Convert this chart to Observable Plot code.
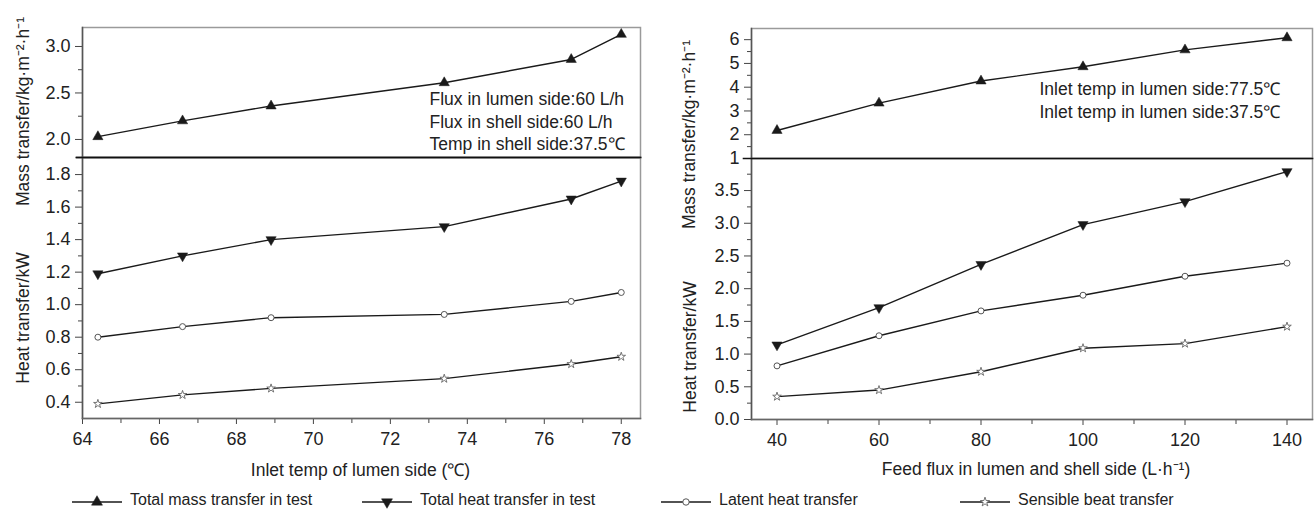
<!DOCTYPE html>
<html><head><meta charset="utf-8">
<script src="https://cdn.jsdelivr.net/npm/d3@7"></script>
<script src="https://cdn.jsdelivr.net/npm/@observablehq/plot@0.6"></script>
<style>
body{margin:0;background:#fff;}
#chart{position:relative;width:1315px;height:513px;font-family:"Liberation Sans",Arial,Helvetica,sans-serif;color:#222;overflow:hidden;}
#chart svg.panel{position:absolute;overflow:visible;background:transparent;}
.legend-item{position:absolute;display:flex;align-items:center;font-size:16px;line-height:18px;height:18px;white-space:nowrap;}
.legend-item svg{margin-right:8px;overflow:visible;}
</style></head><body><div id="chart"></div>
<script>
// ---- data ----
const tempLumen        = [64.4, 66.6, 68.9, 73.4, 76.7, 78.0];
const massByTemp       = [2.03, 2.20, 2.36, 2.61, 2.86, 3.13];
const totalHeatByTemp  = [1.19, 1.30, 1.40, 1.48, 1.65, 1.76];
const latentByTemp     = [0.80, 0.865, 0.92, 0.94, 1.02, 1.075];
const sensibleByTemp   = [0.39, 0.445, 0.485, 0.545, 0.635, 0.68];

const feedFlux         = [40, 60, 80, 100, 120, 140];
const massByFlux       = [2.18, 3.33, 4.26, 4.86, 5.57, 6.08];
const totalHeatByFlux  = [1.14, 1.71, 2.37, 2.98, 3.33, 3.79];
const latentByFlux     = [0.82, 1.28, 1.66, 1.90, 2.19, 2.39];
const sensibleByFlux   = [0.35, 0.45, 0.73, 1.09, 1.16, 1.42];

// tick values
const tempTicks      = [64, 66, 68, 70, 72, 74, 76, 78];
const tempMinor      = [65, 67, 69, 71, 73, 75, 77];
const fluxTicks      = [40, 60, 80, 100, 120, 140];
const fluxMinor      = [50, 70, 90, 110, 130];
const massTempTicks  = [2.0, 2.5, 3.0];
const massTempMinor  = [2.25, 2.75];
const heatTempTicks  = [0.4, 0.6, 0.8, 1.0, 1.2, 1.4, 1.6, 1.8];
const heatTempMinor  = [0.5, 0.7, 0.9, 1.1, 1.3, 1.5, 1.7];
const massFluxTicks  = [1, 2, 3, 4, 5, 6];
const massFluxMinor  = [1.5, 2.5, 3.5, 4.5, 5.5];
const heatFluxTicks  = [0.0, 0.5, 1.0, 1.5, 2.0, 2.5, 3.0, 3.5];
const heatFluxMinor  = [0.25, 0.75, 1.25, 1.75, 2.25, 2.75, 3.25, 3.75];

// text
const seriesNames = ["Total mass transfer in test", "Total heat transfer in test", "Latent heat transfer", "Sensible beat transfer"];
const massLabel = "Mass transfer/kg·m⁻²·h⁻¹";
const heatLabel = "Heat transfer/kW";
const xLabelTemp = "Inlet temp of lumen side (℃)";
const xLabelFlux = "Feed flux in lumen and shell side (L·h⁻¹)";
const noteTemp = "Flux in lumen side:60 L/h\nFlux in shell side:60 L/h\nTemp in shell side:37.5℃";
const noteFlux = "Inlet temp in lumen side:77.5℃\nInlet temp in lumen side:37.5℃";

const rowsTemp = tempLumen.map((x, i) => ({x, mass: massByTemp[i], total: totalHeatByTemp[i], latent: latentByTemp[i], sensible: sensibleByTemp[i]}));
const rowsFlux = feedFlux.map((x, i) => ({x, mass: massByFlux[i], total: totalHeatByFlux[i], latent: latentByFlux[i], sensible: sensibleByFlux[i]}));

// ---- styles ----
const FONT = "'Liberation Sans', Arial, Helvetica, sans-serif";
const INK = "#1a1a1a";
const symStyle = {
  mass:     {symbol: "triangle", r: 3.8, fill: INK, stroke: INK, strokeWidth: 0.5},
  total:    {symbol: "triangle", r: 3.8, fill: INK, stroke: INK, strokeWidth: 0.5, rotate: 180},
  latent:   {symbol: "circle",   r: 3,   fill: "white", stroke: "#555", strokeWidth: 1},
  sensible: {symbol: "star",     r: 2.7, fill: "white", stroke: "#666", strokeWidth: 0.9}
};

function seriesMarks(rows, key) {
  return [
    Plot.line(rows, {x: "x", y: key, stroke: INK, strokeWidth: 1.4}),
    Plot.dot(rows, {x: "x", y: key, ...symStyle[key]})
  ];
}

function yAxes(major, minor, fmt) {
  return [
    Plot.axisY(major, {anchor: "left", tickSize: 7, tickPadding: 5, tickFormat: fmt, fontSize: 18, fill: "#222", stroke: "#444", label: null}),
    Plot.axisY(minor, {anchor: "left", tickSize: 4, tickFormat: () => "", stroke: "#444", label: null})
  ];
}
function xAxes(major, minor) {
  return [
    Plot.axisX(major, {anchor: "bottom", tickSize: 6, tickPadding: 8, fontSize: 18, fill: "#222", stroke: "#444", label: null}),
    Plot.axisX(minor, {anchor: "bottom", tickSize: 5, tickFormat: () => "", stroke: "#444", label: null})
  ];
}

function panel({left, top, width, height, ml, mr, mt, mb, xDomain, yDomain, marks}) {
  const svg = Plot.plot({
    width, height,
    marginLeft: ml, marginRight: mr, marginTop: mt, marginBottom: mb,
    x: {domain: xDomain, axis: null},
    y: {domain: yDomain, axis: null},
    style: {fontFamily: FONT, overflow: "visible", background: "transparent"},
    marks
  });
  svg.classList.add("panel");
  svg.style.left = left + "px";
  svg.style.top = top + "px";
  document.getElementById("chart").appendChild(svg);
}

const titleText = (txt, o) => Plot.text([txt], {text: d => d, fontSize: 17.5, fill: "#222", textAnchor: "middle", lineAnchor: "middle", ...o});

// ---- left panel, top (mass transfer vs inlet temp) ----
panel({
  left: 0, top: 0, width: 660, height: 157, ml: 82, mr: 20, mt: 27, mb: 0,
  xDomain: [64, 78.5], yDomain: [1.806, 3.204],
  marks: [
    Plot.frame({stroke: "#9a9a9a", strokeWidth: 1.5}),
    ...seriesMarks(rowsTemp, "mass"),
    ...yAxes(massTempTicks, massTempMinor, ".1f"),
    Plot.frame({anchor: "left", stroke: "#555", strokeWidth: 1.5}),
    Plot.frame({anchor: "bottom", stroke: "#111", strokeWidth: 1.6, insetLeft: -6}),
    titleText(massLabel, {frameAnchor: "left", rotate: -90, dx: -59, dy: 19}),
    titleText(noteTemp, {frameAnchor: "right", textAnchor: "start", dx: -211, dy: 28, lineHeight: 1.28})
  ]
});

// ---- left panel, bottom (heat transfer vs inlet temp) ----
panel({
  left: 0, top: 157, width: 660, height: 330, ml: 82, mr: 20, mt: 0, mb: 69,
  xDomain: [64, 78.5], yDomain: [0.3, 1.905],
  marks: [
    Plot.frame({stroke: "#9a9a9a", strokeWidth: 1.5}),
    ...seriesMarks(rowsTemp, "sensible"),
    ...seriesMarks(rowsTemp, "latent"),
    ...seriesMarks(rowsTemp, "total"),
    ...yAxes(heatTempTicks, heatTempMinor, ".1f"),
    ...xAxes(tempTicks, tempMinor),
    Plot.frame({anchor: "left", stroke: "#555", strokeWidth: 1.5}),
    Plot.frame({anchor: "bottom", stroke: "#666", strokeWidth: 1.5}),
    Plot.frame({anchor: "top", stroke: "#111", strokeWidth: 1.6, insetLeft: -6}),
    titleText(heatLabel, {frameAnchor: "left", rotate: -90, dx: -59, dy: 30}),
    titleText(xLabelTemp, {frameAnchor: "bottom", dx: -1, dy: 52})
  ]
});

// ---- right panel, top (mass transfer vs feed flux) ----
panel({
  left: 660, top: 0, width: 655, height: 158, ml: 91, mr: 3, mt: 28, mb: 0,
  xDomain: [35, 145], yDomain: [1, 6.47],
  marks: [
    Plot.frame({stroke: "#9a9a9a", strokeWidth: 1.5}),
    ...seriesMarks(rowsFlux, "mass"),
    ...yAxes(massFluxTicks, massFluxMinor, "d"),
    Plot.frame({anchor: "left", stroke: "#555", strokeWidth: 1.5}),
    titleText(massLabel, {frameAnchor: "left", rotate: -90, dx: -62, dy: 41}),
    titleText(noteFlux, {frameAnchor: "right", textAnchor: "start", dx: -273, dy: 6, lineHeight: 1.28})
  ]
});

// ---- right panel, bottom (heat transfer vs feed flux) ----
panel({
  left: 660, top: 158, width: 655, height: 330, ml: 91, mr: 3, mt: 0, mb: 69,
  xDomain: [35, 145], yDomain: [0, 3.99],
  marks: [
    Plot.frame({stroke: "#9a9a9a", strokeWidth: 1.5}),
    ...seriesMarks(rowsFlux, "sensible"),
    ...seriesMarks(rowsFlux, "latent"),
    ...seriesMarks(rowsFlux, "total"),
    ...yAxes(heatFluxTicks, heatFluxMinor, ".1f"),
    ...xAxes(fluxTicks, fluxMinor),
    Plot.frame({anchor: "left", stroke: "#555", strokeWidth: 1.5}),
    Plot.frame({anchor: "bottom", stroke: "#666", strokeWidth: 1.5}),
    Plot.frame({anchor: "top", stroke: "#111", strokeWidth: 1.6, insetLeft: -8}),
    titleText(heatLabel, {frameAnchor: "left", rotate: -90, dx: -61, dy: 58}),
    titleText(xLabelFlux, {frameAnchor: "bottom", dx: 4, dy: 50})
  ]
});

// ---- legend ----
const legendKeys = ["mass", "total", "latent", "sensible"];
const legendLeft = [72, 362, 661, 960];
const ns = "http://www.w3.org/2000/svg";
legendKeys.forEach((k, i) => {
  const item = document.createElement("div");
  item.className = "legend-item";
  item.style.left = legendLeft[i] + "px";
  item.style.top = "491px";
  const s = document.createElementNS(ns, "svg");
  s.setAttribute("width", 50); s.setAttribute("height", 14);
  const ln = document.createElementNS(ns, "line");
  ln.setAttribute("x1", 0); ln.setAttribute("x2", 50); ln.setAttribute("y1", 9); ln.setAttribute("y2", 9);
  ln.setAttribute("stroke", INK); ln.setAttribute("stroke-width", 1.6);
  s.appendChild(ln);
  const st = symStyle[k];
  const symType = {triangle: d3.symbolTriangle, circle: d3.symbolCircle, star: d3.symbolStar}[st.symbol];
  const p = document.createElementNS(ns, "path");
  p.setAttribute("d", d3.symbol(symType, Math.PI * st.r * st.r * 1.15)());
  p.setAttribute("transform", `translate(25,9)` + (st.rotate ? ` rotate(${st.rotate})` : ""));
  p.setAttribute("fill", st.fill); p.setAttribute("stroke", st.stroke); p.setAttribute("stroke-width", st.strokeWidth);
  s.appendChild(p);
  item.appendChild(s);
  const t = document.createElement("span");
  t.textContent = seriesNames[i];
  item.appendChild(t);
  document.getElementById("chart").appendChild(item);
});
</script></body></html>
